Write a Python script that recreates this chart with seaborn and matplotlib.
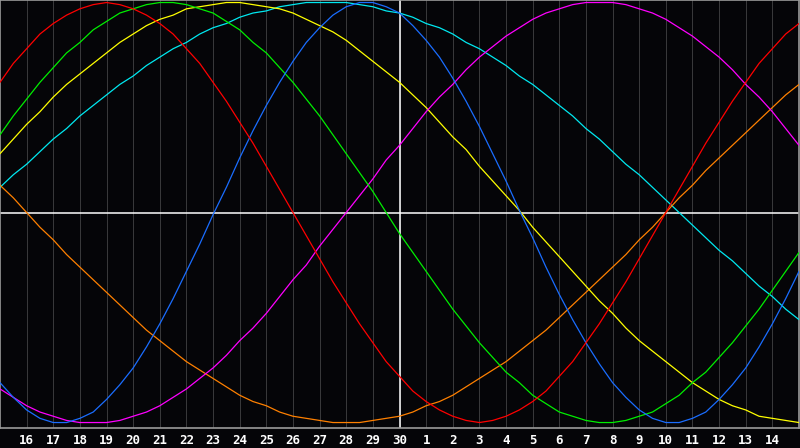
import numpy as np
import pandas as pd
import matplotlib
matplotlib.use("Agg")
import matplotlib.pyplot as plt
import seaborn as sns

# Day labels along the bottom (one per day column, 15th .. 15th)
day_labels = ["15", "16", "17", "18", "19", "20", "21", "22", "23", "24", "25", "26", "27", "28", "29",
              "30", "1", "2", "3", "4", "5", "6", "7", "8", "9", "10", "11", "12", "13", "14", "15"]

# Cycle values (percent) read every half day from the left edge
red = [62, 71, 78, 85, 90, 94, 97, 99, 100, 99, 97, 94, 90, 85, 78, 71, 62, 53, 43, 33, 22, 11, 0,
       -11, -22, -33, -43, -53, -62, -71, -78, -85, -90, -94, -97, -99, -100, -99, -97, -94, -90, -85,
       -78, -71, -62, -53, -43, -33, -22, -11, 0, 11, 22, 33, 43, 53, 62, 71, 78, 85, 90]
blue = [-81, -88, -94, -98, -100, -100, -98, -95, -89, -82, -74, -64, -53, -41, -28, -15, -1, 12, 26,
        39, 51, 62, 72, 81, 88, 94, 98, 100, 100, 98, 95, 89, 82, 74, 64, 53, 41, 28, 15, 1, -12, -26,
        -39, -51, -62, -72, -81, -88, -94, -98, -100, -100, -98, -95, -89, -82, -74, -64, -53, -41, -28]
green = [37, 46, 54, 62, 69, 76, 81, 87, 91, 95, 97, 99, 100, 100, 99, 97, 95, 91, 87, 81, 76, 69, 62,
         54, 46, 37, 28, 19, 10, 0, -10, -19, -28, -37, -46, -54, -62, -69, -76, -81, -87, -91, -95,
         -97, -99, -100, -100, -99, -97, -95, -91, -87, -81, -76, -69, -62, -54, -46, -37, -28, -19]
magenta = [-84, -88, -92, -95, -97, -99, -100, -100, -100, -99, -97, -95, -92, -88, -84, -79, -74, -68,
           -61, -55, -48, -40, -32, -25, -16, -8, 0, 8, 16, 25, 32, 40, 48, 55, 61, 68, 74, 79, 84, 88,
           92, 95, 97, 99, 100, 100, 100, 99, 97, 95, 92, 88, 84, 79, 74, 68, 61, 55, 48, 40, 32]
yellow = [28, 35, 42, 48, 55, 61, 66, 71, 76, 81, 85, 89, 92, 94, 97, 98, 99, 100, 100, 99, 98, 97, 95,
          92, 89, 86, 82, 77, 72, 67, 62, 56, 50, 43, 36, 30, 22, 15, 8, 1, -7, -14, -21, -28, -35,
          -42, -48, -55, -61, -66, -71, -76, -81, -85, -89, -92, -94, -97, -98, -99, -100]
orange = [13, 7, 0, -7, -13, -20, -26, -32, -38, -44, -50, -56, -61, -66, -71, -75, -79, -83, -87, -90,
          -92, -95, -97, -98, -99, -100, -100, -100, -99, -98, -97, -95, -92, -90, -87, -83, -79, -75,
          -71, -66, -61, -56, -50, -44, -38, -32, -26, -20, -13, -7, 0, 7, 13, 20, 26, 32, 38, 44, 50,
          56, 61]
cyan = [12, 18, 23, 29, 35, 40, 46, 51, 56, 61, 65, 70, 74, 78, 81, 85, 88, 90, 93, 95, 96, 98, 99, 100,
        100, 100, 100, 99, 98, 96, 95, 93, 90, 88, 85, 81, 78, 74, 70, 65, 61, 56, 51, 46, 40, 35, 29,
        23, 18, 12, 6, 0, -6, -12, -18, -23, -29, -35, -40, -46, -51]

series = {"cyan": cyan, "orange": orange, "yellow": yellow, "magenta": magenta,
          "green": green, "blue": blue, "red": red}
colors = {"red": "#ff0000", "blue": "#1a6dff", "green": "#00ee00", "magenta": "#ff00ff",
          "yellow": "#ffff00", "orange": "#ff8000", "cyan": "#00e8f0"}

rows = []
for name, vals in series.items():
    for i, v in enumerate(vals):
        rows.append({"day": i / 2.0, "value": v, "cycle": name})
df = pd.DataFrame(rows)

sns.set_style("dark")
bg = "#050508"
fig = plt.figure(figsize=(8, 4.48), dpi=100, facecolor=bg)
ax = fig.add_axes([0, 20 / 448, 799 / 800, 1 - 20 / 448])
ax.set_facecolor(bg)

n = len(day_labels)
# vertical day grid lines
for i in range(1, n - 1):
    ax.axvline(i, color="#38383a", lw=0.6, zorder=1, antialiased=False)

sns.lineplot(data=df, x="day", y="value", hue="cycle", palette=colors,
             hue_order=list(series.keys()), lw=0.9, legend=False, ax=ax, zorder=3)

# today line and zero line
ax.axvline(15, color="white", lw=1.1, zorder=2)
ax.axhline(0, color="white", lw=1.1, zorder=2)

ax.set_xlim(0, n - 1)
ax.set_ylim(-102.6, 101.2)
ax.set_xticks(range(1, n - 1))
ax.set_xticklabels(day_labels[1:n - 1])
ax.tick_params(axis="x", length=0, pad=4, colors="white", labelsize=9)
for t in ax.get_xticklabels():
    t.set_fontweight("bold")
    t.set_fontfamily("DejaVu Sans Mono")
ax.set_yticks([])
ax.set_xlabel("")
ax.set_ylabel("")
ax.grid(False)
for s in ax.spines.values():
    s.set_visible(True)
    s.set_color("#9a9a9a")
    s.set_linewidth(1.2)

fig.savefig("out.png", dpi=100, facecolor=bg)
